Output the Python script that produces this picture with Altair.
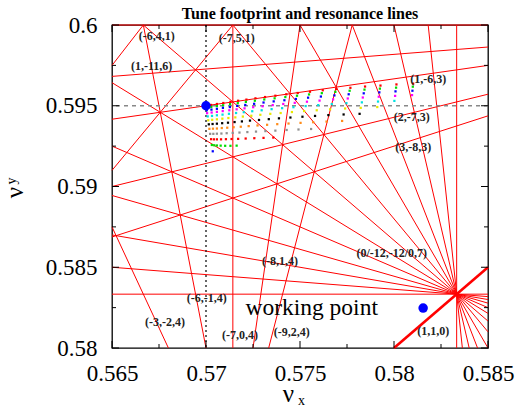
import altair as alt
import pandas as pd

X_DOMAIN = [0.565, 0.585]
Y_DOMAIN = [0.58, 0.6]
W, H = 376, 323
FONT = "Liberation Serif"

# resonance lines  a*nux + b*nuy + p = 0
res_a = [1, -7, -6, -5, 1, -8, 2, -6, -9, 3, 1, -7, 0,
         0, -1, -2, -3, -4, -5, -6, -7, -8, -9, -10, -11, -12]
res_b = [-1, 0, -1, -2, -6, 1, -7, 4, 2, -8, -11, 5, 5,
         -12, -11, -10, -9, -8, -7, -6, -5, -4, -3, -2, -1, 0]
res_p = [0, 4, 4, 4, 3, 4, 3, 1, 4, 3, 6, 1, -3,
         7, 7, 7, 7, 7, 7, 7, 7, 7, 7, 7, 7, 7]
res_width = [2.6] + [1.0] * 25

# labels of the resonance lines (text, nux, nuy)
lab_text = ["(-6,4,1)", "(-7,5,1)", "(1,-11,6)", "(1,-6,3)", "(2,-7,3)", "(3,-8,3)",
            "(0/-12,-12/0,7)", "(-8,1,4)", "(-6,-1,4)", "(-3,-2,4)", "(-7,0,4)",
            "(-9,2,4)", "(1,1,0)"]
lab_x = [0.56738, 0.57163, 0.56711, 0.58182, 0.58094, 0.58103,
         0.57988, 0.57394, 0.57004, 0.56782, 0.57181, 0.57456, 0.58209]
lab_y = [0.59934, 0.59920, 0.59744, 0.59667, 0.59430, 0.59244,
         0.58590, 0.58541, 0.58309, 0.58164, 0.58082, 0.58096, 0.58103]

# tunes
zero_amp = (0.570, 0.595)
working_point = (0.58155, 0.58247)

# tune footprint: one list per amplitude strand, tune shifts from the
# zero-amplitude tune in units of 1e-5 (dots ordered by the second amplitude)
fp_dnux = [
    [0, 2, 4, 6, 9, 12, 15, 18, 22, 27, 31, 36],
    [27, 28, 29, 30, 32, 33, 35, 37, 39, 42, 44],
    [58, 58, 58, 58, 58, 58, 58, 58, 58, 58, 58],
    [92, 91, 90, 89, 88, 87, 86, 84, 82, 80, 78],
    [130, 128, 127, 124, 122, 119, 117, 113, 110, 106, 102],
    [171, 169, 166, 163, 160, 156, 152, 147, 142, 136, 130],
    [215, 212, 209, 205, 201, 196, 191, 185, 178, 171, 163],
    [263, 260, 256, 251, 246, 241, 234, 227, 220, 211],
    [314, 310, 306, 301, 296, 289, 282, 274, 266, 257],
    [369, 365, 360, 355, 349, 342, 334, 325, 316, 306],
    [427, 422, 417, 411, 405, 397, 388, 379, 369, 358],
    [488, 484, 478, 472, 465, 457, 449, 439, 429],
    [553, 548, 543, 537, 530, 522, 513, 503, 492],
    [621, 616, 611, 604, 597, 589, 580, 570, 559],
    [693, 688, 683, 676, 669, 660, 651, 641],
    [768, 764, 759, 754, 747, 740, 732, 724],
    [846, 843, 839, 834, 829, 823, 817],
    [928, 925, 922, 919, 915, 911],
    [1013, 1011, 1008, 1006, 1002],
    [1102, 1100, 1098, 1096],
]
fp_dnuy = [
    [0, -13, -28, -46, -66, -90, -115, -143, -174, -207, -243, -282],
    [5, -8, -24, -42, -63, -87, -113, -142, -174, -208, -245],
    [11, -2, -19, -38, -59, -84, -111, -141, -173, -208, -246],
    [17, 3, -13, -33, -55, -80, -108, -138, -172, -208, -247],
    [24, 10, -8, -28, -50, -76, -105, -136, -170, -207, -248],
    [31, 16, -1, -22, -45, -72, -101, -133, -168, -206, -248],
    [38, 24, 5, -16, -40, -67, -97, -130, -166, -205, -247],
    [46, 31, 12, -9, -34, -62, -92, -126, -163, -203],
    [54, 39, 20, -3, -28, -56, -88, -122, -160, -201],
    [62, 46, 27, 4, -21, -50, -83, -118, -157, -199],
    [71, 54, 34, 11, -15, -45, -78, -114, -154, -197],
    [79, 62, 42, 18, -9, -39, -73, -110, -150],
    [87, 70, 50, 25, -2, -33, -68, -106, -147],
    [96, 78, 57, 32, 4, -28, -63, -102, -144],
    [104, 86, 64, 39, 10, -22, -58, -98],
    [111, 93, 71, 45, 16, -17, -54, -94],
    [119, 100, 77, 51, 21, -13, -50],
    [125, 106, 83, 56, 26, -8],
    [132, 112, 89, 61, 30],
    [137, 118, 93, 66],
]
fp_colors = ["#ff0000", "#00dd00", "#0000ff", "#ff00ff", "#00e0e0",
             "#e8e800", "#000000", "#ff8c1a", "#909090"]

x_major = [0.565, 0.57, 0.575, 0.58, 0.585]
x_minor = [0.5675, 0.5725, 0.5775, 0.5825]
y_major = [0.58, 0.585, 0.59, 0.595, 0.6]
y_minor = [0.5825, 0.5875, 0.5925, 0.5975]


def clip_line(a, b, p):
    pts = []
    eps = 1e-12
    if b != 0:
        for x in X_DOMAIN:
            y = -(a * x + p) / b
            if Y_DOMAIN[0] - eps <= y <= Y_DOMAIN[1] + eps:
                pts.append((x, y))
    if a != 0:
        for y in Y_DOMAIN:
            x = -(b * y + p) / a
            if X_DOMAIN[0] - eps <= x <= X_DOMAIN[1] + eps:
                pts.append((x, y))
    best, bd = None, -1
    for i in range(len(pts)):
        for j in range(i + 1, len(pts)):
            d = (pts[i][0] - pts[j][0]) ** 2 + (pts[i][1] - pts[j][1]) ** 2
            if d > bd:
                bd, best = d, (pts[i], pts[j])
    return best


rows = []
for a, b, p, w in zip(res_a, res_b, res_p, res_width):
    seg = clip_line(a, b, p)
    if seg:
        rows.append({"x1": seg[0][0], "y1": seg[0][1], "x2": seg[1][0], "y2": seg[1][1], "w": w})
lines_df = pd.DataFrame(rows)

fp_rows = []
for du_list, dv_list in zip(fp_dnux, fp_dnuy):
    for j, (du, dv) in enumerate(zip(du_list, dv_list)):
        fp_rows.append({"x": zero_amp[0] + du * 1e-5, "y": zero_amp[1] + dv * 1e-5,
                        "c": fp_colors[j % len(fp_colors)]})
fp_df = pd.DataFrame(fp_rows)

xs = alt.Scale(domain=X_DOMAIN, nice=False, zero=False)
ys = alt.Scale(domain=Y_DOMAIN, nice=False, zero=False)

x_axis = alt.Axis(values=x_major, format="~g", labelFont=FONT, labelFontSize=23,
                  labelColor="black", tickSize=0, domain=False, grid=False,
                  labelPadding=14, title=None, labelFlush=False)
y_axis = alt.Axis(values=y_major, format="~g", labelFont=FONT, labelFontSize=23,
                  labelColor="black", tickSize=0, domain=False, grid=False,
                  labelPadding=15, labelFlush=False,
                  title="ν", titleFont=FONT, titleFontSize=25, titleFontWeight="normal",
                  titleColor="black", titleAngle=270, titleAlign="center",
                  titleBaseline="alphabetic", titleX=-90, titleY=167)


def X(f):
    return alt.X(f, scale=xs, axis=x_axis)


def Y(f):
    return alt.Y(f, scale=ys, axis=y_axis)


base_lines = alt.Chart(lines_df).mark_rule(color="#ff0000").encode(
    x=X("x1:Q"), y=Y("y1:Q"), x2="x2:Q", y2="y2:Q",
    strokeWidth=alt.StrokeWidth("w:Q", scale=None),
)

hline = alt.Chart(pd.DataFrame({"y": [zero_amp[1]]})).mark_rule(
    color="#888888", strokeDash=[4, 4], strokeWidth=1.6).encode(y=Y("y:Q"))
vline = alt.Chart(pd.DataFrame({"x": [zero_amp[0]]})).mark_rule(
    color="black", strokeDash=[2, 3], strokeWidth=1.2).encode(x=X("x:Q"))

footprint = alt.Chart(fp_df).mark_square(size=5, opacity=1).encode(
    x=X("x:Q"), y=Y("y:Q"), color=alt.Color("c:N", scale=None))

pts = alt.Chart(pd.DataFrame({"x": [zero_amp[0], working_point[0]],
                              "y": [zero_amp[1], working_point[1]]})).mark_circle(
    color="#0000ff", size=90, opacity=1).encode(x=X("x:Q"), y=Y("y:Q"))

labels = alt.Chart(pd.DataFrame({"t": lab_text, "x": lab_x, "y": lab_y})).mark_text(
    font=FONT, fontSize=12, fontWeight="bold", color="#222222").encode(
    x=X("x:Q"), y=Y("y:Q"), text="t:N")

wp_text = alt.Chart(pd.DataFrame({"t": ["working point"], "x": [0.57562], "y": [0.58247]})).mark_text(
    font=FONT, fontSize=23.5, color="black").encode(x=X("x:Q"), y=Y("y:Q"), text="t:N")


def tick_layer(vals, orient, length):
    df = pd.DataFrame({"v": vals})
    c = alt.Chart(df).mark_rule(color="black", strokeWidth=1)
    if orient == "bottom":
        return c.encode(x=X("v:Q"), y=alt.value(H), y2=alt.value(H - length))
    if orient == "top":
        return c.encode(x=X("v:Q"), y=alt.value(0), y2=alt.value(length))
    if orient == "left":
        return c.encode(y=Y("v:Q"), x=alt.value(0), x2=alt.value(length))
    return c.encode(y=Y("v:Q"), x=alt.value(W), x2=alt.value(W - length))


ticks = []
for o in ["bottom", "top"]:
    ticks.append(tick_layer(x_major, o, 7))
    ticks.append(tick_layer(x_minor, o, 4))
for o in ["left", "right"]:
    ticks.append(tick_layer(y_major, o, 7))
    ticks.append(tick_layer(y_minor, o, 4))


def text_layer(t, x, y, size, weight="normal", align="center", baseline="alphabetic", angle=0):
    return alt.Chart(pd.DataFrame({"t": [t]})).mark_text(
        font=FONT, fontSize=size, fontWeight=weight, align=align, baseline=baseline,
        angle=angle, color="black").encode(
        x=alt.value(x), y=alt.value(y), text="t:N", angle=alt.value(angle))


title = text_layer("Tune footprint and resonance lines", W / 2, -11, 16, weight="bold",
                   baseline="middle")
xt_nu = text_layer("ν", 176.5, 377, 25)
xt_sub = text_layer("x", 186, 380, 14, align="left")
yt_sub = text_layer("y", -96, 156, 14, angle=270)

chart = alt.layer(base_lines, hline, vline, footprint, *ticks, pts, labels, wp_text,
                  title, xt_nu, xt_sub, yt_sub).properties(
    width=W, height=H,
    autosize=alt.AutoSizeParams(type="none"),
    padding={"left": 112, "top": 25, "right": 32, "bottom": 60},
).configure_view(stroke="black", strokeWidth=1.3)

chart.save("out.html", embed_options={"renderer": "svg", "actions": False})
